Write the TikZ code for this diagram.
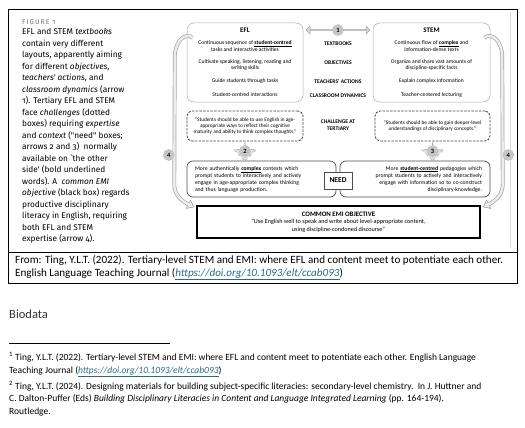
\documentclass[tikz,border=0pt]{standalone}
\usepackage{fontspec}
\setmainfont{Carlito}
\newfontfamily\capfont[Numbers=OldStyle]{Fira Sans}
\usetikzlibrary{shapes.arrows,arrows.meta,calc}
\definecolor{linkteal}{RGB}{40,105,135}
\newcommand{\fs}[2]{\fontsize{#1}{#2}\selectfont}
\newcommand{\hiword}[1]{\underline{\textbf{#1}}}
\tikzset{
  sidebox/.style={draw=gray!65, line width=0.5, rounded corners=7, minimum width=116, minimum height=79, inner sep=0},
  boxtitle/.style={font=\bfseries\fs{7}{8}, inner sep=0},
  rowtxt/.style={font=\fs{5.6}{6.6}, align=center, inner sep=0},
  midlab/.style={font=\bfseries\fs{5.6}{6.6}, align=center, inner sep=0},
  chalbox/.style={draw=black!75, dashed, dash pattern=on 2.5pt off 1.2pt, line width=0.8, rounded corners=5, minimum width=116, minimum height=30, inner sep=0, font=\fs{5.3}{6.3}, align=center},
  needbox/.style={draw=black!70, line width=0.7, rounded corners=6, minimum height=36, inner xsep=8, inner ysep=0, font=\fs{5.7}{7}},
  numdot/.style={circle, fill=gray!45, draw=gray!55, line width=0.4, minimum size=11, inner sep=0, font=\bfseries\fs{6.5}{7}},
  dblarrow/.style={double arrow, draw=gray!70, fill=gray!30, line width=0.5, minimum height=64, minimum width=8, double arrow head extend=3, inner sep=0},
  downarrow/.style={single arrow, shape border rotate=270, draw=gray!70, dashed, fill=gray!25, line width=0.5, minimum height=19, minimum width=21, single arrow head extend=11, inner sep=0},
  band/.style={line width=3.8, draw=gray!70, -{Triangle[length=7pt,width=10pt]}},
  bandin/.style={line width=2.4, draw=gray!15, shorten >=1.3pt, -{Triangle[length=5pt,width=7pt]}}
}
\begin{document}
\begin{tikzpicture}[x=1pt,y=-1pt]
  \useasboundingbox (0,0) rectangle (525,428);
  \draw[line width=0.8] (8,9) rectangle (517,283);
  \draw[line width=0.8] (8,252) -- (517,252);
  \draw[gray!30] (510,12) -- (510,247);

  \node[anchor=west, inner sep=0, text=gray!90!black, font=\capfont\fs{7}{8}\addfontfeatures{LetterSpace=14}] (figlabel) at (22,22) {FIGURE 1};
  \node[anchor=north west, inner sep=0, align=left, font=\capfont\fs{8.3}{11.5}] (caption) at (22,28.5) {EFL and STEM \textit{textbooks}\\
    contain very different\\
    layouts, apparently aiming\\
    for different \textit{objectives},\\
    \textit{teachers' actions}, and\\
    \textit{classroom dynamics} (arrow\\
    1). Tertiary EFL and STEM\\
    face \textit{challenges} (dotted\\
    boxes) requiring \textit{expertise}\\
    and \textit{context} ("need" boxes;\\
    arrows 2 and 3)\ \ normally\\
    available on `the other\\
    side' (bold underlined\\
    words). A\ \ \textit{common EMI}\\
    \textit{objective} (black box) regards\\
    productive disciplinary\\
    literacy in English, requiring\\
    both EFL and STEM\\
    expertise (arrow 4).};

  \node[sidebox] (efl) at (245,62.5) {};
  \node[sidebox, minimum width=117] (stem) at (431.5,62.5) {};
  \node[boxtitle] (efltitle) at (245,30) {EFL};
  \node[boxtitle] (stemtitle) at (431.5,30) {STEM};
  \node[rowtxt] (efl1) at (245,46) {Continuous sequence of \hiword{student-centred}\\tasks and interactive activities};
  \node[rowtxt] (efl2) at (245,65) {Cultivate speaking, listening, reading and\\writing skills};
  \node[rowtxt] (efl3) at (245,81) {Guide students through tasks};
  \node[rowtxt] (efl4) at (245,95) {Student-centred interactions};
  \node[rowtxt] (stem1) at (431.5,46) {Continuous flow of \hiword{complex} and\\information-dense texts};
  \node[rowtxt] (stem2) at (431.5,65) {Organize and share vast amounts of\\discipline-specific facts};
  \node[rowtxt] (stem3) at (431.5,81) {Explain complex information};
  \node[rowtxt] (stem4) at (431.5,95) {Teacher-centered lecturing};
  \foreach \lab/\yy [count=\i] in {TEXTBOOKS/44, OBJECTIVES/63, TEACHERS' ACTIONS/81, CLASSROOM DYNAMICS/96}
    \node[midlab] (mid\i) at (338,\yy) {\lab};

  \node[dblarrow] (arr1) at ($(efl.east |- efltitle)!0.5!(stem.west |- stemtitle)$) {};
  \node[numdot] (num1) at (arr1) {1};

  \node[chalbox] (chall) at (245,126) {``Students should be able to use English in age-\\appropriate ways to reflect their cognitive\\maturity and ability to think complex thoughts.''};
  \node[chalbox, minimum width=115] (chalr) at (432.5,126) {``Students should be able to gain deeper-level\\understandings of disciplinary concepts.''};
  \node[midlab] (challab) at (338,125) {CHALLENGE AT\\TERTIARY};

  \node[needbox, text width=133, align=left] (needl) at (261.5,179) {More authentically \hiword{complex} contexts which\\prompt students to interactively and actively\\engage in age-appropriate complex thinking\\and thus language production.};
  \node[needbox, text width=134, align=right] (needr) at (415,179) {More \hiword{student-centred} pedagogies which\\prompt students to actively and interactively\\engage with information so to co-construct\\disciplinary-knowledge.};
  \node[draw=black!70, fill=white, line width=0.6, minimum width=28, minimum height=17, inner sep=0, font=\bfseries\fs{7.5}{8}] (need) at (338,180.5) {NEED};

  \node[downarrow, anchor=tail] (arr2) at (chall.south) {};
  \node[numdot] (num2) at (arr2) {2};
  \node[downarrow, anchor=tail] (arr3) at (chalr.south) {};
  \node[numdot] (num3) at (arr3) {3};

  \node[draw=black, line width=1.4, minimum width=283, minimum height=32, inner sep=0, align=center, font=\fs{6.2}{7.6}] (obj) at (338.5,222) {{\bfseries\fs{6.8}{7.6}COMMON EMI OBJECTIVE}\\
    ``Use English well to speak and write about level-appropriate content,\\
    using discipline-condoned discourse''};

  \coordinate (r4a) at ($(stem.north east)+(-6,15)$);
  \coordinate (r4b) at ($(stem.east)+(12,-5)$);
  \coordinate (r4c) at ($(obj.north east)+(22,-20)$);
  \coordinate (l4a) at ($(efl.north west)+(6,15)$);
  \coordinate (l4b) at ($(efl.west)+(-12,-5)$);
  \coordinate (l4c) at ($(obj.north west)+(-22,-20)$);
  \draw[band] (r4a) .. controls +(8,-6) and +(0,-16) .. (r4b) -- (r4c) .. controls +(0,12) and +(8,-4) .. ($(obj.north east)+(2,2)$);
  \draw[bandin] (r4a) .. controls +(8,-6) and +(0,-16) .. (r4b) -- (r4c) .. controls +(0,12) and +(8,-4) .. ($(obj.north east)+(2,2)$);
  \draw[band] (l4a) .. controls +(-8,-6) and +(0,-16) .. (l4b) -- (l4c) .. controls +(0,12) and +(-8,-4) .. ($(obj.north west)+(-2,2)$);
  \draw[bandin] (l4a) .. controls +(-8,-6) and +(0,-16) .. (l4b) -- (l4c) .. controls +(0,12) and +(-8,-4) .. ($(obj.north west)+(-2,2)$);
  \node[numdot] (num4r) at ($(r4b |- 0,155)+(6,0)$) {4};
  \node[numdot] (num4l) at ($(l4b |- 0,155)+(-6,0)$) {4};

  \node[anchor=north west, inner sep=0, align=left, font=\fs{11.1}{13}] (source) at (15,255) {From: Ting, Y.L.T. (2022). Tertiary-level STEM and EMI: where EFL and content meet to potentiate each other.\\
    English Language Teaching Journal ({\color{linkteal}\itshape\underline{https://doi.org/10.1093/elt/ccab093}})};

  \node[anchor=west, inner sep=0, text=black!80, font=\fs{12.5}{14}] (biodata) at (9,314) {Biodata};
  \draw[line width=0.6] (9,343) -- (170,343);
  \node[anchor=north west, inner sep=0, align=left, font=\fs{9.5}{12.8}] (fn1) at (9,352) {\textsuperscript{1} Ting, Y.L.T. (2022). Tertiary-level STEM and EMI: where EFL and content meet to potentiate each other. English Language\\
    Teaching Journal ({\color{linkteal}\itshape\underline{https://doi.org/10.1093/elt/ccab093}})};
  \node[anchor=north west, inner sep=0, align=left, font=\fs{9.5}{12.6}] (fn2) at (9,381) {\textsuperscript{2} Ting, Y.L.T. (2024). Designing materials for building subject-specific literacies: secondary-level chemistry.\ \ In J. Huttner and\\
    C. Dalton-Puffer (Eds) \textit{Building Disciplinary Literacies in Content and Language Integrated Learning} (pp. 164-194).\\
    Routledge.};
\end{tikzpicture}
\end{document}
